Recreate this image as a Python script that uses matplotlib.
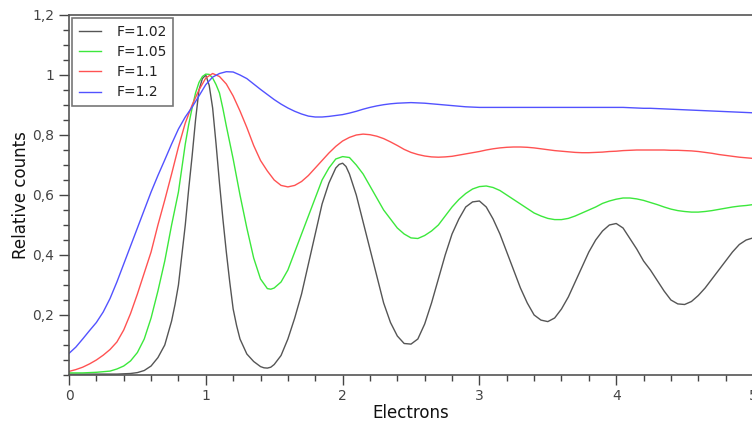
import numpy as np
import matplotlib
matplotlib.use("Agg")
from matplotlib import pyplot as plt
from matplotlib.ticker import MultipleLocator, FixedLocator

# electron number grid (step 0.05)
electrons = [round(0.05 * i, 2) for i in range(101)]

f102 = [0.003, 0.003, 0.003, 0.003, 0.003, 0.003, 0.003, 0.003, 0.004, 0.005,
        0.008, 0.015, 0.030, 0.058, 0.100, 0.180, 0.300, 0.500, 0.730, 0.950,
        1.000, 0.890, 0.640, 0.410, 0.220, 0.120, 0.070, 0.045, 0.028, 0.023,
        0.035, 0.065, 0.120, 0.190, 0.270, 0.370, 0.470, 0.570, 0.640, 0.690,
        0.706, 0.670, 0.600, 0.510, 0.420, 0.330, 0.240, 0.175, 0.130, 0.105,
        0.103, 0.120, 0.170, 0.240, 0.320, 0.400, 0.470, 0.520, 0.560, 0.577,
        0.580, 0.560, 0.520, 0.470, 0.410, 0.350, 0.290, 0.240, 0.200, 0.183,
        0.178, 0.190, 0.220, 0.260, 0.310, 0.360, 0.410, 0.450, 0.480, 0.500,
        0.505, 0.490, 0.455, 0.420, 0.380, 0.350, 0.315, 0.280, 0.250, 0.237,
        0.235, 0.245, 0.265, 0.290, 0.320, 0.350, 0.380, 0.410, 0.435, 0.450,
        0.457]
# extra readings around the sharp first peak
f102_xx = [0.775, 0.825, 0.875, 0.925, 0.975, 1.025, 1.075, 1.125, 1.175, 1.225,
           1.425, 1.475, 1.975, 2.025]
f102_xy = [0.235, 0.400, 0.620, 0.850, 0.988, 0.965, 0.770, 0.520, 0.310, 0.165,
           0.024, 0.026, 0.702, 0.695]

f105 = [0.007, 0.007, 0.007, 0.008, 0.009, 0.011, 0.013, 0.020, 0.030, 0.047,
        0.075, 0.120, 0.190, 0.280, 0.380, 0.500, 0.610, 0.770, 0.890, 0.975,
        1.003, 0.990, 0.940, 0.830, 0.720, 0.600, 0.490, 0.390, 0.320, 0.288,
        0.290, 0.310, 0.350, 0.410, 0.470, 0.530, 0.590, 0.650, 0.690, 0.720,
        0.728, 0.725, 0.700, 0.670, 0.630, 0.590, 0.550, 0.520, 0.490, 0.470,
        0.457, 0.455, 0.465, 0.480, 0.500, 0.530, 0.560, 0.585, 0.605, 0.620,
        0.628, 0.630, 0.625, 0.615, 0.600, 0.585, 0.570, 0.555, 0.540, 0.530,
        0.522, 0.518, 0.518, 0.522, 0.530, 0.540, 0.550, 0.560, 0.572, 0.580,
        0.586, 0.590, 0.590, 0.587, 0.582, 0.575, 0.568, 0.560, 0.553, 0.548,
        0.545, 0.543, 0.543, 0.545, 0.548, 0.552, 0.556, 0.560, 0.563, 0.565,
        0.568]
f105_xx = [0.875, 0.925, 0.975, 1.025, 1.075, 1.125, 1.475]
f105_xy = [0.835, 0.940, 0.995, 1.002, 0.968, 0.888, 0.286]

f110 = [0.012, 0.018, 0.026, 0.037, 0.050, 0.066, 0.085, 0.110, 0.150, 0.205,
        0.270, 0.340, 0.410, 0.500, 0.583, 0.670, 0.760, 0.840, 0.900, 0.950,
        0.990, 1.005, 0.995, 0.970, 0.930, 0.880, 0.825, 0.765, 0.715, 0.680,
        0.650, 0.632, 0.627, 0.632, 0.645, 0.665, 0.690, 0.715, 0.740, 0.762,
        0.780, 0.792, 0.800, 0.803, 0.801, 0.796, 0.788, 0.777, 0.765, 0.752,
        0.742, 0.735, 0.730, 0.727, 0.726, 0.727, 0.729, 0.733, 0.737, 0.741,
        0.745, 0.750, 0.754, 0.757, 0.759, 0.760, 0.760, 0.759, 0.757, 0.754,
        0.751, 0.748, 0.746, 0.744, 0.742, 0.741, 0.741, 0.742, 0.743, 0.745,
        0.746, 0.748, 0.749, 0.750, 0.750, 0.750, 0.750, 0.750, 0.749, 0.749,
        0.748, 0.747, 0.745, 0.742, 0.739, 0.735, 0.732, 0.729, 0.726, 0.724,
        0.722]

f120 = [0.072, 0.093, 0.120, 0.148, 0.175, 0.210, 0.255, 0.310, 0.370, 0.430,
        0.490, 0.550, 0.610, 0.665, 0.717, 0.770, 0.820, 0.860, 0.893, 0.930,
        0.968, 0.993, 1.005, 1.011, 1.010, 1.000, 0.988, 0.970, 0.952, 0.935,
        0.918, 0.903, 0.890, 0.879, 0.870, 0.863, 0.860, 0.860, 0.862, 0.865,
        0.868, 0.873, 0.879, 0.886, 0.892, 0.897, 0.901, 0.904, 0.906, 0.907,
        0.908, 0.907, 0.906, 0.904, 0.902, 0.900, 0.898, 0.896, 0.894, 0.893,
        0.892, 0.892, 0.892, 0.892, 0.892, 0.892, 0.892, 0.892, 0.892, 0.892,
        0.892, 0.892, 0.892, 0.892, 0.892, 0.892, 0.892, 0.892, 0.892, 0.892,
        0.892, 0.892, 0.891, 0.890, 0.889, 0.889, 0.888, 0.887, 0.886, 0.885,
        0.884, 0.883, 0.882, 0.881, 0.880, 0.879, 0.878, 0.877, 0.876, 0.875,
        0.874]


def merged(xs, ys, extra_x=(), extra_y=()):
    pts = sorted(zip(list(xs) + list(extra_x), list(ys) + list(extra_y)))
    return [p[0] for p in pts], [p[1] for p in pts]


SERIES = [("F=1.02", merged(electrons, f102, f102_xx, f102_xy), "#555555"),
          ("F=1.05", merged(electrons, f105, f105_xx, f105_xy), "#3ce83c"),
          ("F=1.1", merged(electrons, f110), "#ff5252"),
          ("F=1.2", merged(electrons, f120), "#5252ff")]

y_ticks = [0.2, 0.4, 0.6, 0.8, 1.0, 1.2]
y_labels = ["0,2", "0,4", "0,6", "0,8", "1", "1,2"]

fig = plt.figure(figsize=(7.52, 4.28), dpi=100)
ax = fig.add_axes([69 / 752, 53 / 428, 684 / 752, 360 / 428])

for label, (xs, ys), col in SERIES:
    ax.plot(xs, ys, color=col, lw=1.0, label=label)

ax.set_xlim(0, 5)
ax.set_ylim(0, 1.2)

ax.xaxis.set_major_locator(MultipleLocator(1))
ax.xaxis.set_minor_locator(MultipleLocator(0.2))
ax.yaxis.set_major_locator(FixedLocator(y_ticks))
ax.set_yticklabels(y_labels)
ax.yaxis.set_minor_locator(MultipleLocator(0.05))

ax.tick_params(which="major", direction="out", length=7, width=1,
               color="#444444", labelsize=10, labelcolor="#444444")
ax.tick_params(which="minor", direction="out", length=4, width=1, color="#444444")
ax.tick_params(axis="x", which="major", pad=3)

for side in ["left", "bottom", "top"]:
    ax.spines[side].set_color("#555555")
    ax.spines[side].set_linewidth(1.2)
ax.spines["right"].set_visible(False)

ax.set_xlabel("Electrons", fontsize=12, color="#111111", labelpad=1)
ax.set_ylabel("Relative counts", fontsize=12, color="#111111", labelpad=2)

leg = ax.legend(loc="upper left", bbox_to_anchor=(0.0, 1.0), borderaxespad=0.25,
                fontsize=10, handlelength=1.6, handletextpad=1.1, borderpad=0.45,
                labelspacing=0.45, fancybox=False, framealpha=1,
                edgecolor="#777777")
leg.get_frame().set_linewidth(1.2)
for t in leg.get_texts():
    t.set_color("#222222")

fig.savefig("out.png", dpi=100)
